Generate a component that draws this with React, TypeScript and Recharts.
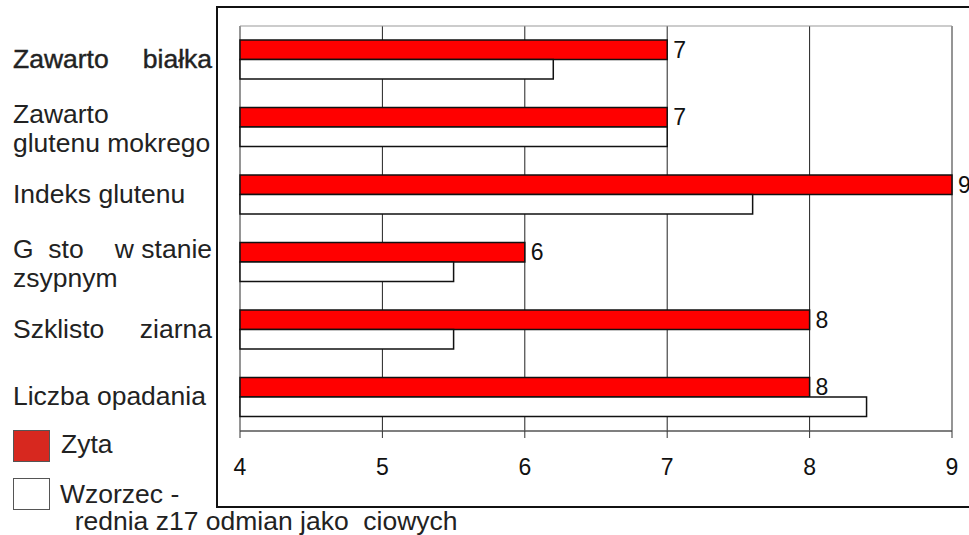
import { BarChart, Bar, XAxis, YAxis, CartesianGrid, LabelList, ReferenceArea } from "recharts";

// categories (Polish glyphs missing in the source render, gaps kept as in the picture)
const categories = [
  "Zawarto    białka",
  "Zawarto\nglutenu mokrego",
  "Indeks glutenu",
  "G  sto    w stanie\nzsypnym",
  "Szklisto    ziarna",
  "Liczba opadania",
];
const zyta = [7, 7, 9, 6, 8, 8];
const wzorzec = [6.2, 7.0, 7.6, 5.5, 5.5, 8.4];
const xTicks = [4, 5, 6, 7, 8, 9];
const seriesNames = ["Zyta", "Wzorzec -\n  rednia z17 odmian jako  ciowych"];

const FONT = "'Liberation Sans', Arial, sans-serif";
const STRETCH = 1.06;

const data = categories.map((name, i) => ({ name, zyta: zyta[i], wzorzec: wzorzec[i] }));

function CategoryTick({ y, payload, index }: any) {
  const lines = String(payload.value).split("\n");
  const baseY = lines.length > 1 ? y - 4 : y + 8;
  const bold = index === 0;
  return (
    <g>
      {lines.map((line, i) => {
        const parts = line.split(/\s{3,}/);
        const ly = baseY + i * 28.5;
        const common = {
          fontFamily: FONT,
          fontSize: 25,
          fill: "#222",
          stroke: bold ? "#222" : "none",
          strokeWidth: bold ? 0.4 : 0,
          style: { whiteSpace: "pre" as const },
        };
        if (parts.length === 1) {
          return (
            <text key={i} {...common} x={0} y={0} transform={`translate(13 ${ly}) scale(${STRETCH} 1)`}>
              {line}
            </text>
          );
        }
        return (
          <g key={i}>
            <text {...common} x={0} y={0} transform={`translate(13 ${ly}) scale(${STRETCH} 1)`}>
              {parts[0]}
            </text>
            <text {...common} x={0} y={0} textAnchor="end" transform={`translate(212 ${ly}) scale(${STRETCH} 1)`}>
              {parts[parts.length - 1]}
            </text>
          </g>
        );
      })}
    </g>
  );
}

function LegendBox() {
  const [first, second] = seriesNames;
  const secondLines = second.split("\n");
  return (
    <svg width={969} height={535} style={{ position: "absolute", left: 0, top: 0, pointerEvents: "none" }}>
      <rect x={13.5} y={430.5} width={36} height={31} fill="#d7281f" stroke="#555" strokeWidth={1} />
      <text x={0} y={0} transform={`translate(61 453) scale(${STRETCH} 1)`} fontFamily={FONT} fontSize={25} fill="#222">
        {first}
      </text>
      <rect x={13.5} y={478.5} width={36} height={31} fill="#fff" stroke="#555" strokeWidth={1} />
      {secondLines.map((l, i) => (
        <text
          key={i}
          x={0}
          y={0}
          transform={`translate(60 ${503 + i * 27}) scale(${STRETCH} 1)`}
          fontFamily={FONT}
          fontSize={25}
          fill="#222"
          style={{ whiteSpace: "pre" }}
        >
          {l}
        </text>
      ))}
    </svg>
  );
}

export default function App() {
  return (
    <div style={{ position: "absolute", left: 0, top: 0, width: 969, height: 535, background: "#fff", overflow: "hidden" }}>
      <div
        style={{
          position: "absolute",
          left: 216,
          top: 6,
          width: 800,
          height: 502,
          border: "2px solid #111",
          boxSizing: "border-box",
        }}
      />
      <div style={{ position: "absolute", left: 0, top: 0 }}>
        <BarChart
          width={969}
          height={535}
          data={data}
          layout="vertical"
          barGap={0}
          margin={{ top: 26, right: 17, left: 0, bottom: 44 }}
        >
          <CartesianGrid horizontal={false} stroke="#222" strokeWidth={1} />
          <ReferenceArea x1={4} x2={9} fill="none" stroke="#999" strokeWidth={1} fillOpacity={0} />
          <XAxis
            type="number"
            domain={[4, 9]}
            ticks={xTicks}
            height={60}
            tickSize={7}
            tickMargin={21}
            stroke="#333"
            tick={{ fill: "#111", fontSize: 23, fontFamily: FONT }}
          />
          <YAxis
            type="category"
            dataKey="name"
            width={240}
            axisLine={false}
            tickLine={false}
            tick={<CategoryTick />}
            interval={0}
          />
          <Bar dataKey="zyta" fill="#ff0000" stroke="#111" strokeWidth={1.5} barSize={19.5} isAnimationActive={false}>
            <LabelList dataKey="zyta" position="right" offset={6} fill="#111" fontSize={23} fontFamily={FONT} />
          </Bar>
          <Bar dataKey="wzorzec" fill="#ffffff" stroke="#111" strokeWidth={1.5} barSize={19.5} isAnimationActive={false} />
        </BarChart>
      </div>
      <LegendBox />
    </div>
  );
}
